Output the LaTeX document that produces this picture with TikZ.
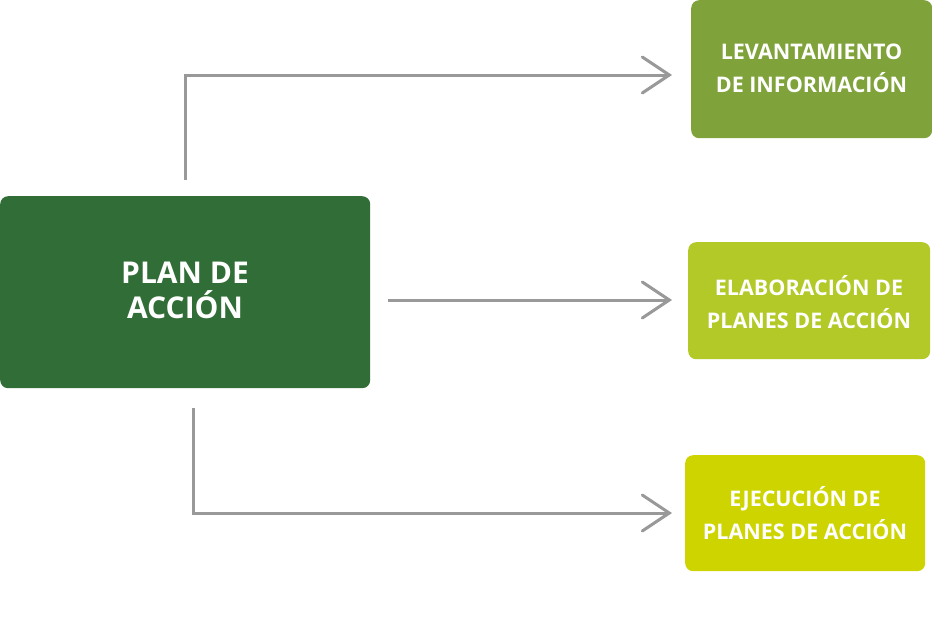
\documentclass[tikz,border=0pt]{standalone}
\usepackage{fontspec}
\setmainfont{Open Sans}
\usetikzlibrary{arrows.meta}
\definecolor{dkgreen}{HTML}{316D36}
\definecolor{gA}{HTML}{7FA33A}
\definecolor{gB}{HTML}{B2C927}
\definecolor{gC}{HTML}{CDD400}
\definecolor{arr}{HTML}{999999}
\tikzset{
  box/.style={fill=#1, rounded corners=8pt, inner sep=0pt, anchor=north west},
  lbl/.style={text=white, font=\bfseries\fontsize{21.5}{33}\selectfont, align=center},
  conn/.style={draw=arr, line width=3pt, -{Straight Barb[length=27pt,width=36pt,line cap=round]}}
}
\begin{document}
\begin{tikzpicture}[x=1pt,y=-1pt]
\useasboundingbox (0,0) rectangle (932,624);
\node[box=dkgreen, minimum width=370pt, minimum height=192pt] (main) at (0,196) {};
\node[box=gA, minimum width=241pt, minimum height=138pt] (b1) at (691,0) {};
\node[box=gB, minimum width=242pt, minimum height=117pt] (b2) at (688,242) {};
\node[box=gC, minimum width=240pt, minimum height=116pt] (b3) at (685,455) {};
\node[lbl, font=\bfseries\fontsize{30}{35}\selectfont] (tm) at (185,290) {PLAN DE\\ACCIÓN};
\node[lbl] (t1) at (811.5,68) {LEVANTAMIENTO\\DE INFORMACIÓN};
\node[lbl] (t2) at (809,302) {ELABORACIÓN DE\\PLANES DE ACCIÓN};
\node[lbl] (t3) at (805,513) {EJECUCIÓN DE\\PLANES DE ACCIÓN};
\coordinate (s1) at (185,180);
\coordinate (e1) at (672,75);
\coordinate (s2) at (388,300);
\coordinate (e2) at (672,300);
\coordinate (s3) at (193,408);
\coordinate (e3) at (672,513);
\draw[conn] (s1) |- (e1);
\draw[conn] (s2) -- (e2);
\draw[conn] (s3) |- (e3);
\end{tikzpicture}
\end{document}
